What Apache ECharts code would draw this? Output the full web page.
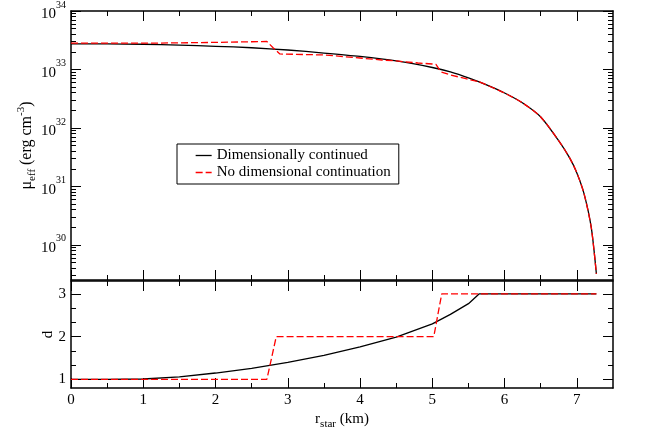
<!DOCTYPE html>
<html><head><meta charset="utf-8">
<script src="https://cdn.jsdelivr.net/npm/echarts@6/dist/echarts.min.js"></script>
<style>html,body{margin:0;padding:0;background:#fff}#c{width:646px;height:431px}</style>
</head><body><div id="c"></div>
<script>
// ---- data ----
const rBlackTop = [0, 0.5, 1.0, 1.5, 2.0, 2.5, 3.0, 3.5, 4.0, 4.5, 5.0, 5.25, 5.5, 5.75, 6.0, 6.25, 6.5, 6.75, 6.9, 7.0, 7.1, 7.2, 7.27];
const muBlack = [2.73e33, 2.73e33, 2.70e33, 2.60e33, 2.49e33, 2.35e33, 2.15e33, 1.91e33, 1.67e33, 1.40e33, 1.08e33, 9.06e32, 7.16e32, 5.43e32, 3.96e32, 2.67e32, 1.54e32, 6.0e31, 3.07e31, 1.70e31, 7.45e30, 1.95e30, 3.19e29];
// red curve: stepped part, then the tail where it coincides with the black curve
const rRedTop = [0, 1.0, 2.0, 2.5, 2.71, 2.8, 2.89, 3.5, 4.0, 4.3, 4.5, 4.8, 5.0, 5.05, 5.12, 5.25, 5.45, 5.65];
const muRed = [2.81e33, 2.81e33, 2.90e33, 2.98e33, 3.01e33, 2.33e33, 1.84e33, 1.77e33, 1.57e33, 1.45e33, 1.40e33, 1.29e33, 1.24e33, 1.22e33, 9.06e32, 8.05e32, 7.02e32, 6.11e32];
const rRedTail = [5.65, 5.75, 6.0, 6.25, 6.5, 6.75, 6.9, 7.0, 7.1, 7.2, 7.27];
const muRedTail = [6.11e32, 5.43e32, 3.96e32, 2.67e32, 1.54e32, 6.0e31, 3.07e31, 1.70e31, 7.45e30, 1.95e30, 3.19e29];
const rBlackD = [0, 0.5, 1.0, 1.5, 2.0, 2.5, 3.0, 3.5, 4.0, 4.5, 5.0, 5.25, 5.5, 5.65, 7.27];
const dBlack = [1.0, 1.0, 1.01, 1.06, 1.15, 1.26, 1.40, 1.56, 1.76, 1.99, 2.30, 2.52, 2.77, 3.0, 3.0];
const rRedD = [0, 2.71, 2.84, 5.02, 5.13, 7.27];
const dRed = [1, 1, 2, 2, 3, 3];
const seriesNames = ['Dimensionally continued', 'No dimensional continuation'];
const xTicks = [0, 1, 2, 3, 4, 5, 6, 7];
const xMinorTicks = [0.5, 1.5, 2.5, 3.5, 4.5, 5.5, 6.5];
const muTicks = [1e30, 1e31, 1e32, 1e33, 1e34];
const muTickExp = ['30', '31', '32', '33', '34'];
const dTicks = [1, 2, 3];
const dMinorTicks = [1.3333, 1.6667, 2.3333, 2.6667];
const muMinorTicks = [];
for (let e = 29; e <= 33; e++) for (let k = 2; k <= 9; k++) { const v = k * Math.pow(10, e); if (v > 2.5e29) muMinorTicks.push(v); }

const FONT = 'Liberation Serif';
const zip = (a, b) => a.map((v, i) => [v, b[i]]);

function ax(o) {
  return {
    type: o.type || 'value', gridIndex: o.grid, position: o.pos,
    min: o.min, max: o.max,
    axisLine: { show: !!o.line, onZero: false, lineStyle: { color: '#000', width: 1.5 } },
    axisTick: { show: true, inside: true, length: o.len, customValues: o.ticks, lineStyle: { color: '#000', width: 1 } },
    axisLabel: o.labels ? Object.assign({ show: true, customValues: o.ticks, color: '#000', fontFamily: FONT, fontSize: 15 }, o.labelOpt || {}) : { show: false },
    splitLine: { show: false }, minorTick: { show: false },
    name: o.name, nameLocation: 'middle', nameGap: o.nameGap, nameRotate: o.nameRotate,
    nameMoveOverlap: false,
    nameTextStyle: o.nameStyle
  };
}
const X = (grid, pos, ticks, len, line, extra) => ax(Object.assign({ grid, pos, min: 0, max: 7.5, ticks, len, line }, extra || {}));
const richX = {
  n: { fontFamily: FONT, fontSize: 15, color: '#000' },
  sub: { fontFamily: FONT, fontSize: 11, color: '#000', verticalAlign: 'bottom', lineHeight: 22 }
};
const richY = {
  n: { fontFamily: FONT, fontSize: 16, color: '#000' },
  sub: { fontFamily: FONT, fontSize: 11, color: '#000', verticalAlign: 'bottom', lineHeight: 22 },
  sup: { fontFamily: FONT, fontSize: 11, color: '#000', verticalAlign: 'top', lineHeight: 22 }
};
const xAxes = [
  X(0, 'bottom', xTicks, 10, true), X(0, 'bottom', xMinorTicks, 5, false),
  X(0, 'top', xTicks, 10, true), X(0, 'top', xMinorTicks, 5, false),
  X(1, 'bottom', xTicks, 10, true, { labels: true, labelOpt: { margin: 5 }, name: '{n|r}{sub|star}{n| (km)}', nameGap: 20,
    nameStyle: { rich: richX } }),
  X(1, 'bottom', xMinorTicks, 5, false),
  X(1, 'top', xTicks, 10, true), X(1, 'top', xMinorTicks, 5, false)
];
const LY = (pos, ticks, len, line, extra) => ax(Object.assign({ type: 'log', grid: 0, pos, min: 2.5e29, max: 1e34, ticks, len, line }, extra || {}));
const DY = (pos, ticks, len, line, extra) => ax(Object.assign({ grid: 1, pos, min: 0.8, max: 3.3, ticks, len, line }, extra || {}));
const yAxes = [
  LY('left', muTicks, 10, true, {
    labels: true,
    labelOpt: {
      margin: 5,
      formatter: v => '{b|10}{s|' + muTickExp[muTicks.findIndex(t => Math.abs(Math.log10(t) - Math.log10(v)) < 1e-6)] + '}',
      rich: {
        b: { fontFamily: FONT, fontSize: 15, color: '#000', verticalAlign: 'bottom', lineHeight: 22 },
        s: { fontFamily: FONT, fontSize: 10, color: '#000', verticalAlign: 'top', lineHeight: 22 }
      }
    },
    name: '{n|\u03bc}{sub|eff}{n| (erg cm}{sup|-3}{n|)}', nameGap: 33, nameRotate: 90,
    nameStyle: { rich: richY }
  }),
  LY('left', muMinorTicks, 5, false),
  LY('right', muTicks, 10, true), LY('right', muMinorTicks, 5, false),
  DY('left', dTicks, 10, true, { labels: true, labelOpt: { margin: 5 }, name: 'd', nameGap: 15, nameRotate: 90,
    nameStyle: { fontFamily: FONT, fontSize: 15, color: '#000' } }),
  DY('left', dMinorTicks, 5, false),
  DY('right', dTicks, 10, true), DY('right', dMinorTicks, 5, false)
];

const chart = echarts.init(document.getElementById('c'), null, { renderer: 'canvas' });
const lineS = (name, xi, yi, data, color, dashed, smooth) => ({
  name, type: 'line', xAxisIndex: xi, yAxisIndex: yi, data, symbol: 'none', animation: false,
  smooth: smooth || false,
  lineStyle: { color, width: 1.3, type: dashed ? [7, 3] : 'solid' }, itemStyle: { color }, z: dashed ? 3 : 2
});
chart.setOption({
  animation: false,
  backgroundColor: '#fff',
  grid: [
    { left: 71, top: 10, width: 542, height: 270 },
    { left: 71, top: 281, width: 542, height: 108 }
  ],
  xAxis: xAxes,
  yAxis: yAxes,
  legend: {
    data: seriesNames, orient: 'vertical', left: 177, top: 144,
    borderColor: '#000', borderWidth: 1, borderRadius: 0, padding: [4, 8, 4, 18], itemGap: 2,
    itemWidth: 16, itemHeight: 14,
    itemStyle: { opacity: 0, borderWidth: 0 },
    lineStyle: { width: 1.3 },
    textStyle: { fontFamily: FONT, fontSize: 15, color: '#000' },
    selectedMode: false
  },
  series: [
    lineS(seriesNames[0], 0, 0, zip(rBlackTop, muBlack), '#000', false, 0.25),
    lineS(seriesNames[1], 0, 0, zip(rRedTop, muRed), '#ff0000', true),
    lineS(seriesNames[1], 0, 0, zip(rRedTail, muRedTail), '#ff0000', true, 0.25),
    lineS(seriesNames[0], 4, 4, zip(rBlackD, dBlack), '#000', false),
    lineS(seriesNames[1], 4, 4, zip(rRedD, dRed), '#ff0000', true)
  ]
});
</script></body></html>
